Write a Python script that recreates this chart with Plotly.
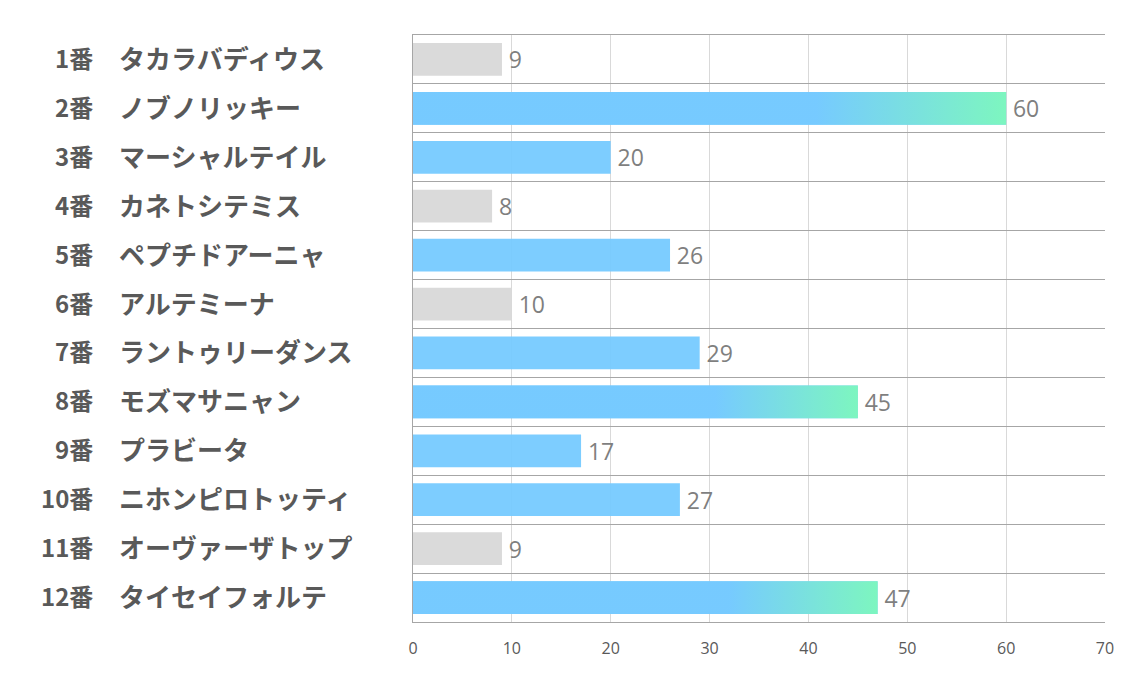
import plotly.graph_objects as go

# data
numbers = ["1番", "2番", "3番", "4番", "5番", "6番", "7番", "8番", "9番", "10番", "11番", "12番"]
names = ["タカラバディウス", "ノブノリッキー", "マーシャルテイル", "カネトシテミス", "ペプチドアーニャ",
         "アルテミーナ", "ラントゥリーダンス", "モズマサニャン", "プラビータ", "ニホンピロトッティ",
         "オーヴァーザトップ", "タイセイフォルテ"]
values = [9, 60, 20, 8, 26, 10, 29, 45, 17, 27, 9, 47]
kind = ["gray", "grad", "blue", "gray", "blue", "gray", "blue", "grad", "blue", "blue", "gray", "grad"]

BLUE = "rgba(118,202,255,0.95)"
GREEN = "rgba(125,248,188,0.95)"
GRAY = "rgba(216,216,216,0.95)"
BW = 0.67

pos = list(range(len(values)))
colors = [GRAY if k == "gray" else BLUE for k in kind]

fig = go.Figure()
fig.add_trace(go.Bar(
    x=values, y=pos, orientation="h", width=BW,
    marker=dict(color=colors, line=dict(width=0)),
    text=["\u2009" + str(v) for v in values], textposition="outside",
    textfont=dict(size=23, color="#7F7F7F", family="Open Sans, Noto Sans CJK JP"),
    cliponaxis=False, hoverinfo="skip",
))

# gradient on the bars that get one
for i, (v, k) in enumerate(zip(values, kind)):
    if k != "grad":
        continue
    fig.add_trace(go.Scatter(
        x=[0, v, v, 0, 0], y=[i - BW / 2, i - BW / 2, i + BW / 2, i + BW / 2, i - BW / 2],
        mode="lines", line=dict(width=0), fill="toself",
        fillgradient=dict(type="horizontal",
                          colorscale=[[0, BLUE], [0.68, BLUE], [1, GREEN]]),
        hoverinfo="skip", showlegend=False,
    ))

# left labels
num_font = dict(size=24, color="#595959", family="Noto Sans CJK JP")
name_font = dict(size=26, color="#595959", family="Noto Sans CJK JP")
for i, (n, nm) in enumerate(zip(numbers, names)):
    fig.add_annotation(x=-0.459, y=i, xref="paper", yref="y", text="<b>" + n + "</b>",
                       showarrow=False, xanchor="right", font=num_font, yshift=2)
    fig.add_annotation(x=-0.428, y=i, xref="paper", yref="y", text="<b>" + nm + "</b>",
                       showarrow=False, xanchor="left", font=name_font, yshift=2)

fig.update_layout(
    width=1134, height=680,
    margin=dict(l=405, r=37, t=27, b=66, autoexpand=False),
    plot_bgcolor="white", paper_bgcolor="white",
    showlegend=False,
    xaxis=dict(range=[0, 70], tickvals=list(range(0, 71, 10)),
               showgrid=True, gridcolor="#D9D9D9", gridwidth=1,
               zeroline=False, showline=True, mirror=True,
               linecolor="#A6A6A6", linewidth=1,
               tickfont=dict(size=16, color="#595959", family="Open Sans"),
               ticks="", ticklabelstandoff=12, fixedrange=True),
    yaxis=dict(range=[len(values) - 0.5, -0.5],
               tickvals=[p - 0.5 for p in pos] + [len(values) - 0.5],
               showticklabels=False, ticks="",
               showgrid=True, gridcolor="#A6A6A6", gridwidth=1,
               zeroline=False, showline=True, linecolor="#A6A6A6", linewidth=1,
               fixedrange=True),
)

fig.write_html("out.html")
